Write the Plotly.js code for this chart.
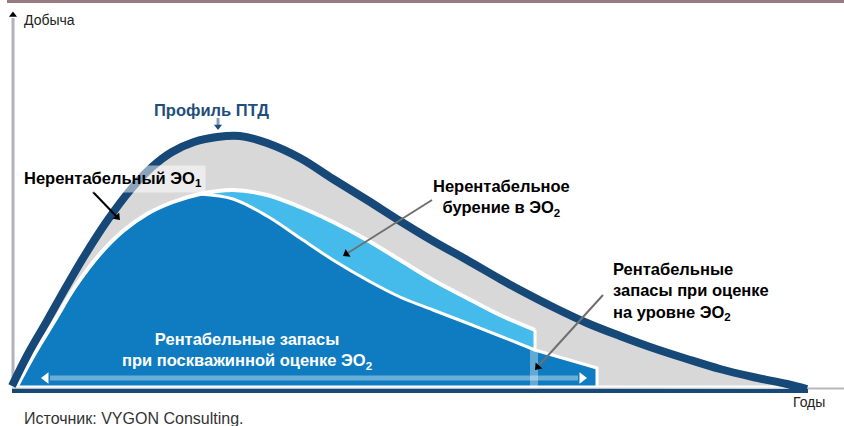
<!DOCTYPE html>
<html><head><meta charset="utf-8">
<script src="https://cdn.plot.ly/plotly-3.0.1.min.js"></script>
<style>html,body{margin:0;padding:0;background:#fff}#chart{width:844px;height:426px}</style>
</head><body><div id="chart"></div>
<script>
// Schematic production profile: x = time (chart units), y = production (chart units)
// Outer profile (Профиль ПТД)
const profileX = [0,16,35,53,73,95,120,140,160,182,205,228,255,288,321,355,388,421,455,488,508,541,575,608,641,675,708,741,775,795];
const profileY = [0,32,65,97,131,165,198,219,234,244,249,250,243,228,207,186,165,145,126,107,96,79,63,50,38,27,17,9,2,-3];
// Economic profile at EO1 level (top of blue area)
const econX = [5,23,43,63,88,111,135,161,188,221,255,288,321,355,388,421,455,488,523];
const econY = [0,33,66,99,132,155,172,184,192,196,191,179,164,146,126,106,88,71,56];
// Well-by-well economic profile (top of dark blue area)
const wellX = [188,221,255,288,321,355,388,421,455,488,523];
const wellY = [192,187,170,148,126,106,89,76,63,50,36];
// Tail of economic well-by-well reserves after EO2 cut-off
const tailX = [523,554,585];
const tailY = [36,27,18];
const cutoffEO2 = 523;   // end of drilling at EO2 evaluation
const endWells = 585;    // end of economic well-by-well reserves
const endProfile = 795;

const NAVY = '#164878', GRAY = '#d9d8d8', BLUE = '#0f7cc1', LBLUE = '#45bbeb';
const FONT = 'Liberation Sans, Arial, Helvetica, sans-serif';

const traces = [];
const line = (x, y, color, width, shape) => ({x, y, mode: 'lines', line: {color, width, shape: shape || 'linear'}, hoverinfo: 'skip'});
const head = (x, y, angle, color, size) => ({x: [x], y: [y], mode: 'markers', marker: {symbol: 'triangle-up', size: size || 8, color, angle, line: {width: 0}}, hoverinfo: 'skip'});

// axes (drawn as lines with arrow)
traces.push(line([1,1],[0,368],'#b3b3bb',3));
traces.push(line([0,832],[-2.5,-2.5],'#b8b8c0',2));

// gray: full technological profile
traces.push({x: profileX, y: profileY, mode: 'lines', fill: 'toself', fillcolor: GRAY, line: {width: 0}, hoverinfo: 'skip'});

// dark blue: economic reserves (whole blue area)
const dbX = econX.concat([cutoffEO2], tailX.slice(1), [endWells, econX[0]]);
const dbY = econY.concat([tailY[0]], tailY.slice(1), [0, 0]);
traces.push({x: dbX, y: dbY, mode: 'lines', fill: 'toself', fillcolor: BLUE, line: {width: 0}, hoverinfo: 'skip'});

// light blue: uneconomic drilling in EO2
const i0 = econX.indexOf(wellX[0]);
const lbX = econX.slice(i0).concat(wellX.slice().reverse());
const lbY = econY.slice(i0).concat(wellY.slice().reverse());
traces.push({x: lbX, y: lbY, mode: 'lines', fill: 'toself', fillcolor: LBLUE, line: {width: 0}, hoverinfo: 'skip'});

// white outlines
traces.push(line(econX, econY, '#ffffff', 4, 'spline'));
traces.push(line(wellX, wellY, '#ffffff', 3, 'spline'));
traces.push(line([cutoffEO2, cutoffEO2].concat(tailX.slice(1), [endWells]), [econY[econY.length-1], tailY[0]].concat(tailY.slice(1), [0]), '#ffffff', 3));
traces.push(line([3, endProfile], [-0.5, -0.5], '#ffffff', 2));

// translucent marker at EO2 cut-off
traces.push(line([cutoffEO2-1, cutoffEO2-1], [-2, tailY[0]], 'rgba(255,255,255,0.35)', 8));
// double arrow across economic reserves
traces.push(line([38, 566], [8, 8], 'rgba(255,255,255,0.38)', 5));
traces.push({x: [34], y: [8], mode: 'markers', marker: {symbol: 'triangle-left', size: 10, color: '#ffffff'}, hoverinfo: 'skip'});
traces.push({x: [570], y: [8], mode: 'markers', marker: {symbol: 'triangle-right', size: 10, color: '#ffffff'}, hoverinfo: 'skip'});

// baseline and outer profile
traces.push(line([0, endProfile+1], [-5, -5], NAVY, 4));
traces.push(line(profileX, profileY, NAVY, 8, 'spline'));
// y-axis arrowhead
traces.push({x: [1], y: [371], mode: 'markers', marker: {symbol: 'triangle-up', size: 7, color: '#000000'}, hoverinfo: 'skip'});

// pointer arrows (shaft + head)
traces.push(line([206, 206], [268, 259], '#8a9bbd', 3));
traces.push(head(206, 259.5, 180, '#1f4e7c', 7));
traces.push(line([81, 106], [194, 168], '#000000', 2));
traces.push(head(105.2, 168.9, 136, '#000000', 8));
traces.push(line([420, 335], [186, 132.5], '#6f6f6f', 2));
traces.push(head(334.4, 132.1, 237.8, '#000000', 8));
traces.push(line([591, 526], [91, 19.5], '#6f6f6f', 2));
traces.push(head(525.7, 19.0, 222.2, '#000000', 8));

const txt = (text, x, y, opts) => Object.assign({text, x, y, xref: 'x', yref: 'y', showarrow: false,
  font: {family: FONT, size: 16.5, color: '#000000'}, xanchor: 'center', yanchor: 'middle'}, opts || {});

const annotations = [
  txt('Добыча', 10, 366, {xanchor: 'left', font: {family: FONT, size: 14, color: '#222222'}}),
  txt('Годы', 797, -16, {font: {family: FONT, size: 14, color: '#222222'}}),
  txt('Источник: VYGON Consulting.', 10, -32, {xanchor: 'left', font: {family: FONT, size: 16, color: '#333333'}}),
  txt('<b>Профиль ПТД</b>', 199.5, 276, {font: {family: FONT, size: 16.5, color: '#1f4e7c'}}),
  txt('<b>Нерентабельный ЭО<sub>1</sub></b>', 101, 207, {bgcolor: 'rgba(255,255,255,0.5)', borderpad: 3}),
  txt('<b>Нерентабельное<br>бурение в ЭО<sub>2</sub></b>', 489, 188.5),
  txt('<b>Рентабельные<br>запасы при оценке<br>на уровне ЭО<sub>2</sub></b>', 599, 95, {xanchor: 'left', align: 'left'}),
  txt('<b>Рентабельные запасы<br>при поскважинной оценке ЭО<sub>2</sub></b>', 235, 35, {font: {family: FONT, size: 16.5, color: '#ffffff'}})
];

const layout = {
  width: 844, height: 426,
  margin: {l: 0, r: 0, t: 0, b: 0, pad: 0},
  paper_bgcolor: '#ffffff', plot_bgcolor: '#ffffff',
  showlegend: false, hovermode: false,
  xaxis: {range: [-12, 832], visible: false, fixedrange: true},
  yaxis: {range: [-40, 386], visible: false, fixedrange: true},
  annotations,
  shapes: [{type: 'rect', xref: 'paper', yref: 'paper', x0: 7/844, x1: 1, y0: 1 - 3/426, y1: 1, fillcolor: '#967b81', line: {width: 0}}]
};
Plotly.newPlot('chart', traces, layout, {displayModeBar: false, staticPlot: true});
</script></body></html>
